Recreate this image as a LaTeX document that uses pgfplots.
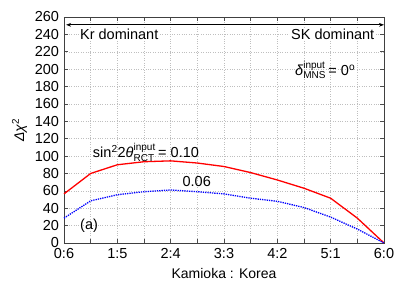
\documentclass[border=0pt]{standalone}
\usepackage{fontspec}
\setmainfont{Liberation Sans}
\usepackage{pgfplots}
\pgfplotsset{compat=1.18}
\usetikzlibrary{arrows.meta}
\begin{document}
\begin{tikzpicture}
\fontsize{14.5}{17}\selectfont
\begin{axis}[
  scale only axis=true,
  width=320pt, height=226pt,
  xmin=0, xmax=6, ymin=0, ymax=260,
  xtick={0,...,6},
  xticklabels={0:6,1:5,2:4,3:3,4:2,5:1,6:0},
  minor xtick={0.5,1.5,...,5.5},
  ytick={0,20,...,260},
  grid=both,
  major grid style={dotted, gray!50, line width=0.4pt},
  minor grid style={dotted, gray!50, line width=0.4pt},
  tick align=inside,
  major tick length=4pt, minor tick length=4pt,
  tick style={black!70, line width=0.6pt},
  axis line style={black!75, line width=0.8pt},
  /pgf/number format/assume math mode=true,
  ticklabel style={font=\fontsize{14.5}{17}\selectfont},
  label style={font=\fontsize{14}{17}\selectfont},
  xlabel={Kamioka : Korea},
  ylabel={\textit{Δχ}\textsuperscript{2}},
  ylabel style={yshift=-2pt},
  clip=false,
]
\addplot[red, line width=1.3pt] coordinates {
(0,56.5) (0.5,80) (1,90) (1.5,93.5) (2,94.5) (2.5,92) (3,88) (3.5,81) (4,72.5) (4.5,63) (5,51.5) (5.5,28.6) (6,0)
};
\addplot[blue, densely dotted, line width=1.3pt] coordinates {
(0,28.6) (0.5,48.5) (1,55.5) (1.5,59) (2,61) (2.5,59) (3,56.5) (3.5,51.5) (4,48) (4.5,40.8) (5,29.8) (5.5,16) (6,0)
};
\draw[{Stealth[length=5pt]}-{Stealth[length=5pt]}, black, line width=0.8pt] (axis cs:0.04,251) -- (axis cs:6,251);
\node[anchor=west, fill=white, inner sep=1pt] at (axis cs:0.28,240) {Kr dominant};
\node[anchor=east, fill=white, inner sep=1pt] at (axis cs:5.84,240) {SK dominant};
\node[anchor=west, inner sep=0pt] at (axis cs:4.33,199) {\textit{δ}$^{\mbox{\fontsize{10}{11}\selectfont input}}_{\mbox{\fontsize{10}{11}\selectfont MNS}}$\,= 0\textsuperscript{o}};
\node[anchor=west, inner sep=0pt] at (axis cs:0.54,104) {sin\textsuperscript{2}2\textit{θ}$^{\mbox{\fontsize{10}{11}\selectfont input}}_{\mbox{\fontsize{10}{11}\selectfont RCT}}$\,= 0.10};
\node[anchor=west, inner sep=0pt] at (axis cs:2.22,71) {0.06};
\node[anchor=west, inner sep=0pt] at (axis cs:0.3,20) {(a)};
\end{axis}
\pgfresetboundingbox
\path ([xshift=-64pt,yshift=-43pt]current axis.south west) rectangle ([xshift=25pt,yshift=17pt]current axis.north east);
\end{tikzpicture}
\end{document}
